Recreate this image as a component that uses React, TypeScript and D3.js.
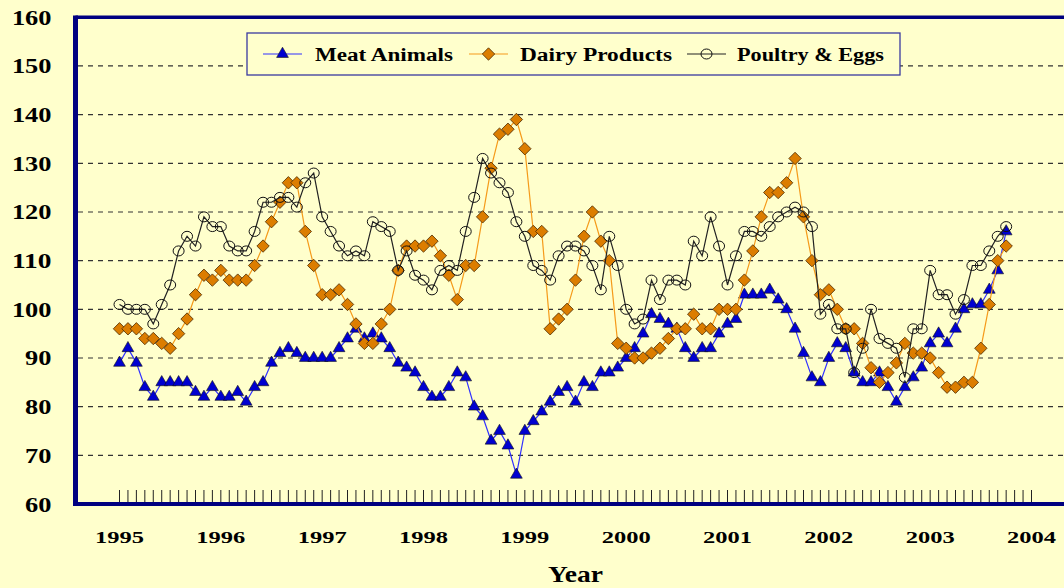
import * as d3 from 'd3';

// monthly index values, Jan 1995 .. Oct 2003
const meatAnimals = [
  89, 92, 89, 84, 82, 85, 85, 85, 85, 83, 82, 84,
  82, 82, 83, 81, 84, 85, 89, 91, 92, 91, 90, 90,
  90, 90, 92, 94, 96, 94, 95, 94, 92, 89, 88, 87,
  84, 82, 82, 84, 87, 86, 80, 78, 73, 75, 72, 66,
  75, 77, 79, 81, 83, 84, 81, 85, 84, 87, 87, 88,
  90, 92, 95, 99, 98, 97, 96, 92, 90, 92, 92, 95,
  97, 98, 103, 103, 103, 104, 102, 100, 96, 91, 86, 85,
  90, 93, 92, 87, 85, 85, 87, 84, 81, 84, 86, 88,
  93, 95, 93, 96, 100, 101, 101, 104, 108, 116,
];
const dairyProducts = [
  96, 96, 96, 94, 94, 93, 92, 95, 98, 103, 107, 106,
  108, 106, 106, 106, 109, 113, 118, 122, 126, 126, 116, 109,
  103, 103, 104, 101, 97, 93, 93, 97, 100, 108, 113, 113,
  113, 114, 111, 107, 102, 109, 109, 119, 129, 136, 137, 139,
  133, 116, 116, 96, 98, 100, 106, 115, 120, 114, 110, 93,
  92, 90, 90, 91, 92, 94, 96, 96, 99, 96, 96, 100,
  100, 100, 106, 112, 119, 124, 124, 126, 131, 119, 110, 103,
  104, 100, 96, 96, 93, 88, 85, 87, 89, 93, 91, 91,
  90, 87, 84, 84, 85, 85, 92, 101, 110, 113,
];
const poultryEggs = [
  101, 100, 100, 100, 97, 101, 105, 112, 115, 113, 119, 117,
  117, 113, 112, 112, 116, 122, 122, 123, 123, 121, 126, 128,
  119, 116, 113, 111, 112, 111, 118, 117, 116, 108, 112, 107,
  106, 104, 108, 109, 108, 116, 123, 131, 128, 126, 124, 118,
  115, 109, 108, 106, 111, 113, 113, 112, 109, 104, 115, 109,
  100, 97, 98, 106, 102, 106, 106, 105, 114, 111, 119, 113,
  105, 111, 116, 116, 115, 117, 119, 120, 121, 120, 117, 99,
  101, 96, 96, 87, 92, 100, 94, 93, 92, 86, 96, 96,
  108, 103, 103, 99, 102, 109, 109, 112, 115, 117,
];
const years = ['1995', '1996', '1997', '1998', '1999', '2000', '2001', '2002', '2003', '2004'];
const yTicks = [60, 70, 80, 90, 100, 110, 120, 130, 140, 150, 160];
const seriesNames = ['Meat Animals', 'Dairy Products', 'Poultry & Eggs'];

const W = 1064;
const H = 588;
const BG = '#ffffcc';
const NAVY = '#000080';
const FONT = "'Liberation Serif', 'Times New Roman', serif";

const x = d3.scaleLinear().domain([0, 108]).range([119.5, 1031.5]);
const y = d3.scaleLinear().domain([60, 160]).range([504, 17.3]);

const triPath = d3.symbol(d3.symbolTriangle, 60)()!;
const diamondPath = 'M0,-6.2L6.2,0L0,6.2L-6.2,0Z';

const lineGen = d3.line<number>().x((_, i) => x(i)).y(d => y(d));

const Marker = ({ kind, cx, cy }: { kind: number; cx: number; cy: number }) => {
  if (kind === 0)
    return <path d={triPath} transform={`translate(${cx},${cy})`} fill="#0000d0" stroke="#111" strokeWidth={0.6} />;
  if (kind === 1)
    return <path d={diamondPath} transform={`translate(${cx},${cy})`} fill="#dc7d00" stroke="#4a2a00" strokeWidth={0.8} strokeLinejoin="round" />;
  return <ellipse cx={cx} cy={cy} rx={5.5} ry={5} fill="none" stroke="#111" strokeWidth={1} />;
};

const lineColors = ['#3030ff', '#f59a1a', '#222'];
const allSeries = [meatAnimals, dairyProducts, poultryEggs];

// legend layout (sample x, text x, text width)
const legendItems = [
  { sx: 263, tx: 315, tw: 138 },
  { sx: 469, tx: 520, tw: 152 },
  { sx: 687, tx: 737, tw: 147 },
];

export default function App() {
  const months = d3.range(0, 109);
  return (
    <div style={{ position: 'absolute', left: 0, top: 0 }}>
      <svg width={W} height={H} style={{ display: 'block' }}>
        <rect x={0} y={0} width={W} height={H} fill={BG} />

        {/* gridlines */}
        {yTicks.filter(t => t > 60 && t < 160).map(t => (
          <line key={t} x1={78} x2={W} y1={y(t)} y2={y(t)} stroke="#333" strokeWidth={1.2} strokeDasharray="5,5" />
        ))}

        {/* month tick marks */}
        {months.map(m => (
          <line key={m} x1={x(m)} x2={x(m)} y1={490} y2={503} stroke="#222" strokeWidth={1} />
        ))}

        {/* frame */}
        <line x1={75.5} x2={W} y1={17.3} y2={17.3} stroke={NAVY} strokeWidth={3.5} />
        <line x1={75.5} x2={W} y1={504} y2={504} stroke={NAVY} strokeWidth={4} />
        <line x1={75.5} x2={75.5} y1={15.5} y2={506} stroke={NAVY} strokeWidth={5} />

        {/* y labels */}
        {yTicks.map(t => {
          const s = String(t);
          const w = s.length * 13.2;
          return (
            <text key={t} x={51.5 - w} y={y(t) + 7.5} fontFamily={FONT} fontWeight="bold" fontSize={20}
              textLength={w} lengthAdjust="spacingAndGlyphs" fill="#000">{s}</text>
          );
        })}

        {/* x labels */}
        {years.map((yr, k) => (
          <text key={yr} x={x(k * 12) - 24.5} y={543} fontFamily={FONT} fontWeight="bold" fontSize={16.5}
            textLength={49} lengthAdjust="spacingAndGlyphs" fill="#000">{yr}</text>
        ))}
        <text x={548} y={582} fontFamily={FONT} fontWeight="bold" fontSize={24}
          textLength={55} lengthAdjust="spacingAndGlyphs" fill="#000">Year</text>

        {/* series */}
        {allSeries.map((vals, si) => (
          <g key={si}>
            <path d={lineGen(vals) || ''} fill="none" stroke={lineColors[si]} strokeWidth={1.2} />
            {vals.map((v, i) => <Marker key={i} kind={si} cx={x(i)} cy={y(v)} />)}
          </g>
        ))}

        {/* legend */}
        <rect x={247} y={33} width={653} height={42} fill={BG} stroke="#3a3aa0" strokeWidth={1.3} />
        {legendItems.map((it, i) => (
          <g key={i}>
            <line x1={it.sx} x2={it.sx + 39} y1={54} y2={54} stroke={lineColors[i]} strokeWidth={1.2} />
            <Marker kind={i} cx={it.sx + 19.5} cy={54} />
            <text x={it.tx} y={61} fontFamily={FONT} fontWeight="bold" fontSize={18.5}
              textLength={it.tw} lengthAdjust="spacingAndGlyphs" fill="#000">{seriesNames[i]}</text>
          </g>
        ))}
      </svg>
    </div>
  );
}
